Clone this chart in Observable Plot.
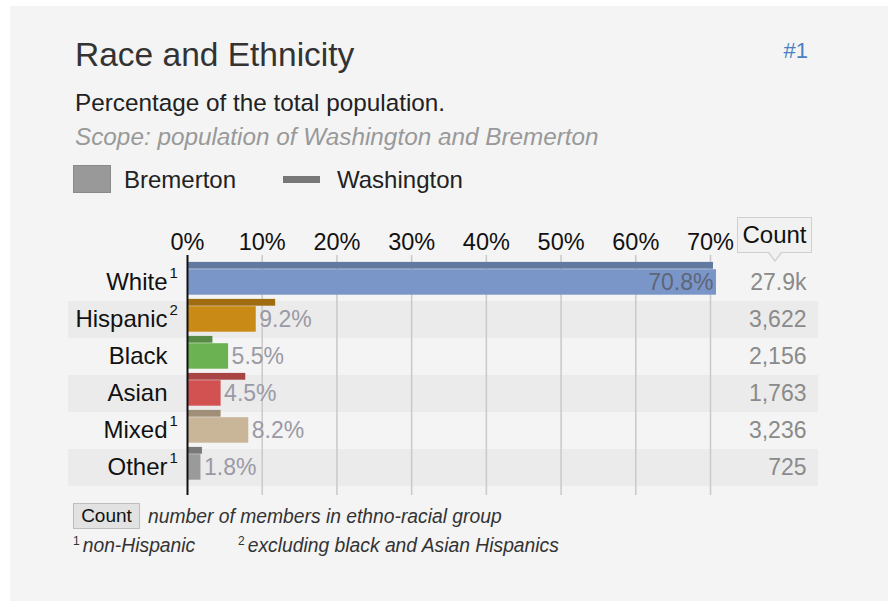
<!DOCTYPE html>
<html>
<head>
<meta charset="utf-8">
<script src="https://cdn.jsdelivr.net/npm/d3@7"></script>
<script src="https://cdn.jsdelivr.net/npm/@observablehq/plot@0.6"></script>
<style>
  html, body { margin: 0; padding: 0; background: #ffffff; width: 888px; height: 601px; overflow: hidden; }
  body { font-family: "Liberation Sans", Arial, sans-serif; position: relative; }
  #panel { position: absolute; left: 10px; top: 6px; width: 878px; height: 595px; background: #f4f4f4; }
  .t { position: absolute; white-space: nowrap; line-height: 1; }
  #title { left: 75px; top: 38px; font-size: 33.5px; color: #333; }
  #rank { right: 80px; top: 40px; font-size: 22px; color: #4a7fc1; }
  #sub { left: 75px; top: 91px; font-size: 24.3px; color: #222; }
  #scope { left: 75px; top: 125px; font-size: 24.3px; color: #999; font-style: italic; }
  #lg1 { position: absolute; left: 73px; top: 165px; width: 36px; height: 26px; background: #999; border: 1px solid #8a8a8a; }
  #lg1t { left: 124px; top: 168px; font-size: 24px; color: #222; }
  #lg2 { position: absolute; left: 283px; top: 176px; width: 37px; height: 7px; background: #777; }
  #lg2t { left: 337px; top: 168px; font-size: 24px; color: #222; }
  #counthead { position: absolute; left: 737px; top: 217px; width: 73px; height: 34px; background: #f1f1f1; border: 1px solid #cfcfcf;
    font-size: 24px; color: #111; text-align: center; line-height: 34px; box-sizing: content-box; }
  #counthead:after { content: ""; position: absolute; left: 30px; top: 35px; width: 0; height: 0;
    border-left: 7px solid transparent; border-right: 7px solid transparent; border-top: 9px solid #cfcfcf; }
  #counthead:before { content: ""; position: absolute; left: 31px; top: 34px; width: 0; height: 0; z-index: 1;
    border-left: 6px solid transparent; border-right: 6px solid transparent; border-top: 8px solid #f1f1f1; }
  #chart { position: absolute; left: 0; top: 210px; }
  #btn { position: absolute; left: 73px; top: 503px; width: 65px; height: 24px; background: #e2e2e2; border: 1px solid #bdbdbd;
    font-size: 19px; color: #111; text-align: center; line-height: 24px; }
  #f1 { left: 148px; top: 507px; font-size: 19.3px; color: #333; font-style: italic; }
  #f2 { left: 73px; top: 535px; font-size: 19.3px; color: #333; font-style: italic; }
  #f3 { left: 238px; top: 535px; font-size: 19.3px; color: #333; font-style: italic; }
  sup { font-size: 12px; font-style: normal; vertical-align: 7px; margin-right: 3px; }
</style>
</head>
<body>
<div id="panel"></div>
<div class="t" id="title">Race and Ethnicity</div>
<div class="t" id="rank">#1</div>
<div class="t" id="sub">Percentage of the total population.</div>
<div class="t" id="scope">Scope: population of Washington and Bremerton</div>
<div id="lg1"></div><div class="t" id="lg1t">Bremerton</div>
<div id="lg2"></div><div class="t" id="lg2t">Washington</div>
<div id="chart"></div>
<div id="counthead">Count</div>
<div id="btn">Count</div>
<div class="t" id="f1">number of members in ethno-racial group</div>
<div class="t" id="f2"><sup>1</sup>non-Hispanic</div>
<div class="t" id="f3"><sup>2</sup>excluding black and Asian Hispanics</div>
<script>
// ---- data ----
const categories = ["White", "Hispanic", "Black", "Asian", "Mixed", "Other"];
const footnotes  = ["1", "2", "", "", "1", "1"];
const bremerton  = [70.8, 9.2, 5.5, 4.5, 8.2, 1.8];
const washington = [70.4, 11.8, 3.4, 7.8, 4.5, 2.0];
const countLabels = ["27.9k", "3,622", "2,156", "1,763", "3,236", "725"];
const colorsMain = ["#7a96c9", "#c98a16", "#6bb352", "#d25252", "#c9b597", "#9a9a9a"];
const colorsRef  = ["#61799f", "#9f6c12", "#588a45", "#a84444", "#a08e78", "#787878"];
const xTicks = [0, 10, 20, 30, 40, 50, 60, 70];
const striped = ["Hispanic", "Asian", "Other"];

const rows = categories.map((c, i) => ({
  name: c, note: footnotes[i], brem: bremerton[i], wash: washington[i],
  count: countLabels[i], main: colorsMain[i], ref: colorsRef[i]
}));

const font = "'Liberation Sans', Arial, sans-serif";

const chart = Plot.plot({
  width: 888,
  height: 285,
  marginTop: 45,
  marginBottom: 0,
  marginLeft: 68,
  marginRight: 70,
  style: { background: "transparent", fontFamily: font, overflow: "visible" },
  x: { domain: [0, 70], range: [187, 710], axis: null },
  y: { type: "band", domain: categories, padding: 0, insetTop: 7.3, insetBottom: 7.7, axis: null },
  marks: [
    Plot.cell(striped, { y: d => d, fill: "#ebebeb" }),
    Plot.ruleX(xTicks.filter(d => d > 0), { x: d => d, stroke: "#c9c9c9", strokeWidth: 1.5 }),
    // Washington (reference) thin bars
    Plot.barX(rows, { y: "name", x1: 0, x2: "wash", fill: "ref", insetTop: -2.1, insetBottom: 32.3 }),
    // Bremerton thick bars
    Plot.barX(rows, { y: "name", x1: 0, x2: "brem", fill: "main", insetTop: 5.2, insetBottom: 6.3 }),
    Plot.ruleX([0], { stroke: "#111", strokeWidth: 2 }),
    // tick labels
    Plot.text(xTicks, { x: d => d, text: d => d + "%", frameAnchor: "top", lineAnchor: "middle", dy: -13, fontSize: 23.5, fill: "#111" }),
    // value labels
    Plot.text(rows.filter(d => d.brem >= 50), { y: "name", x: "brem", text: d => d.brem.toFixed(1) + "%", textAnchor: "end", dx: -3, dy: -0.5, fontSize: 23, fill: "#5f6577" }),
    Plot.text(rows.filter(d => d.brem < 50), { y: "name", x: "brem", text: d => d.brem.toFixed(1) + "%", textAnchor: "start", dx: 3, dy: -0.5, fontSize: 23, fill: "#9a9aa6" }),
    // row labels
    Plot.text(rows, { y: "name", x: 0, text: "name", textAnchor: "end", dx: -20, dy: -0.5, fontSize: 24, fill: "#111" }),
    Plot.text(rows, { y: "name", x: 0, text: "note", textAnchor: "start", dx: -18, dy: -10, fontSize: 15, fill: "#111" }),
    // counts
    Plot.text(rows, { y: "name", text: "count", frameAnchor: "right", textAnchor: "end", dx: -12, dy: -0.5, fontSize: 23, fill: "#8a8a8a" })
  ]
});
document.getElementById("chart").appendChild(chart);
</script>
</body>
</html>
